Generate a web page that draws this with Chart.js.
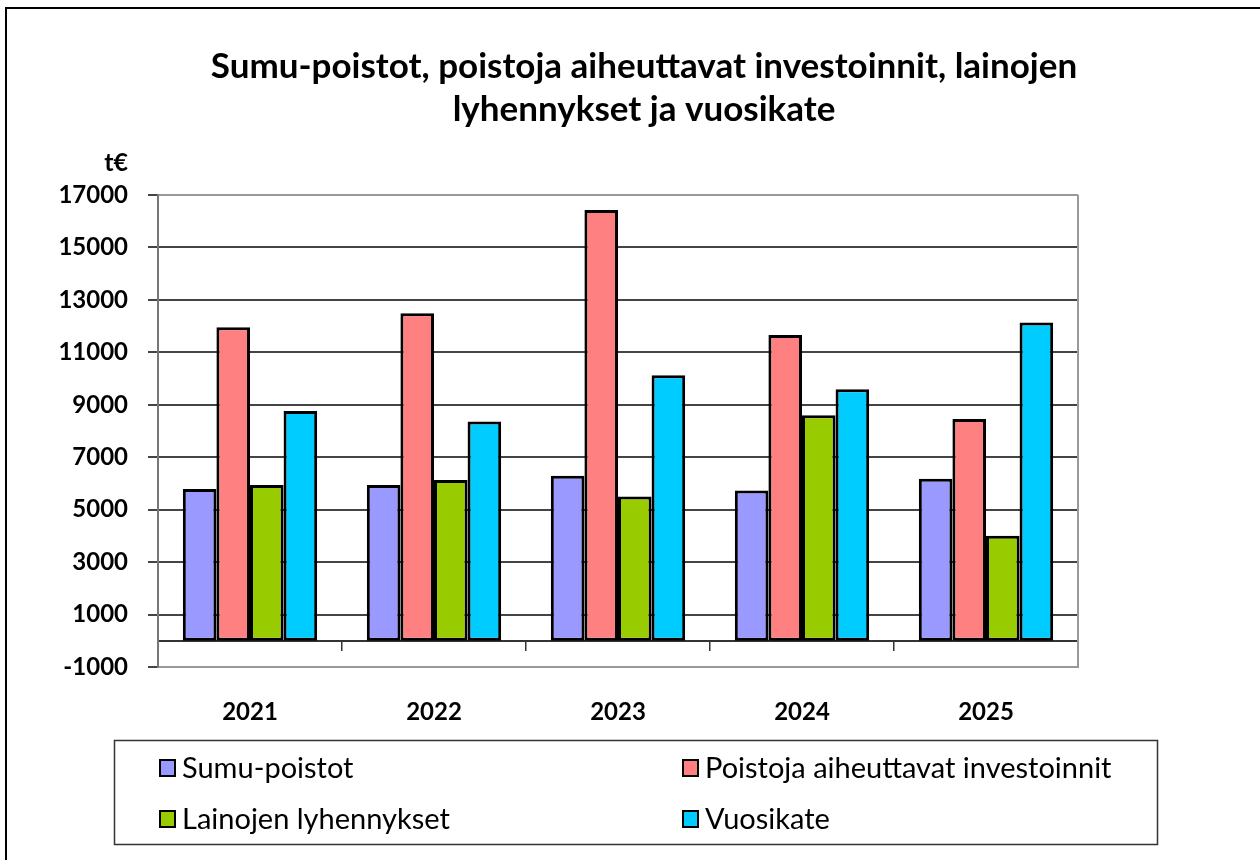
<!DOCTYPE html>
<html>
<head>
<meta charset="utf-8">
<script src="https://cdn.jsdelivr.net/npm/chart.js@4.4.1/dist/chart.umd.min.js"></script>
<style>
  html, body { margin: 0; padding: 0; background: #fff; overflow: hidden; }
  #wrap { position: relative; width: 1260px; height: 860px; }
  #frame { position: absolute; left: 5px; top: 7px; width: 1400px; height: 1000px;
           border-left: 2px solid #000; border-top: 2px solid #000; pointer-events: none; }
  canvas { position: absolute; left: 0; top: 0; }
</style>
</head>
<body>
<div id="wrap">
  <canvas id="chart" width="1260" height="860"></canvas>
  <div id="frame"></div>
</div>
<script>
// data (t€)
const years = ['2021', '2022', '2023', '2024', '2025'];
const sumuPoistot = [5790, 5940, 6290, 5730, 6180];
const poistojaInvestoinnit = [11960, 12490, 16430, 11660, 8460];
const lainojenLyhennykset = [5940, 6130, 5500, 8600, 4010];
const vuosikate = [8760, 8360, 10130, 9590, 12140];

const seriesNames = ['Sumu-poistot', 'Poistoja aiheuttavat investoinnit', 'Lainojen lyhennykset', 'Vuosikate'];
const seriesColors = ['#9999FF', '#FF8080', '#99CC00', '#00CCFF'];

const titleLines = ['Sumu-poistot, poistoja aiheuttavat investoinnit, lainojen', 'lyhennykset ja vuosikate'];
const unitLabel = 't€';

const yMin = -1000, yMax = 17000, yStep = 2000;

const FONT = 'Lato, "Open Sans", sans-serif';

// title, unit label and the boxed legend
const decorations = {
  id: 'decorations',
  beforeDatasetsDraw(chart) {
    const { ctx, chartArea } = chart;
    // grey plot-area frame on the right
    ctx.save();
    ctx.strokeStyle = '#999';
    ctx.lineWidth = 2;
    ctx.beginPath();
    ctx.moveTo(chartArea.right, chartArea.top);
    ctx.lineTo(chartArea.right, chartArea.bottom);
    ctx.stroke();
    ctx.restore();
  },
  afterDraw(chart) {
    const { ctx } = chart;
    ctx.save();
    ctx.fillStyle = '#000';
    ctx.textAlign = 'center';
    ctx.textBaseline = 'middle';
    ctx.font = 'bold 35px ' + FONT;
    titleLines.forEach((line, i) => ctx.fillText(line, 644, 67 + i * 43));

    ctx.font = 'bold 25px ' + FONT;
    ctx.textAlign = 'right';
    ctx.fillText(unitLabel, 128, 163);

    // legend box
    ctx.strokeStyle = '#333';
    ctx.lineWidth = 1.5;
    ctx.strokeRect(114.5, 740.5, 1043, 104);
    ctx.font = '29px ' + FONT;
    ctx.textAlign = 'left';
    chart.data.datasets.forEach((ds, i) => {
      const col = i % 2, row = Math.floor(i / 2);
      const x = col === 0 ? 160 : 683;
      const y = row === 0 ? 768 : 819;
      ctx.fillStyle = ds.backgroundColor;
      ctx.fillRect(x, y - 8, 15, 16);
      ctx.strokeStyle = '#000';
      ctx.lineWidth = 2;
      ctx.strokeRect(x, y - 8, 15, 16);
      ctx.fillStyle = '#000';
      ctx.fillText(ds.label, x + 22, y + 1);
    });
    ctx.restore();
  }
};

const values = [sumuPoistot, poistojaInvestoinnit, lainojenLyhennykset, vuosikate];

new Chart(document.getElementById('chart'), {
  type: 'bar',
  data: {
    labels: years,
    datasets: values.map((v, i) => ({
      label: seriesNames[i],
      data: v,
      backgroundColor: seriesColors[i],
      borderColor: '#000',
      borderWidth: 3,
      borderSkipped: false,
      xAxisID: 'x',
      yAxisID: 'y',
      categoryPercentage: 0.73,
      barPercentage: 1.0
    }))
  },
  options: {
    responsive: false,
    animation: false,
    layout: { padding: { top: 195, left: 0, right: 182, bottom: 0 } },
    plugins: {
      legend: { display: false },
      title: { display: false },
      tooltip: { enabled: false }
    },
    scales: {
      x: {
        position: 'bottom',
        grid: { display: false, drawTicks: false },
        border: { color: '#999', width: 2 },
        ticks: { color: '#000', font: { family: FONT, size: 24, weight: 'bold' }, padding: 31 },
        afterFit: s => { s.height = 193; }
      },
      x0: {
        axis: 'x',
        type: 'category',
        position: { y: 0 },
        offset: true,
        grid: { offset: true, drawOnChartArea: false, tickLength: 9, color: '#333', lineWidth: 1.5 },
        border: { color: '#333', width: 2 },
        ticks: { display: false }
      },
      y: {
        position: 'left',
        min: yMin,
        max: yMax,
        ticks: {
          stepSize: yStep,
          color: '#000',
          padding: 20,
          font: { family: FONT, size: 24, weight: 'bold' },
          callback: v => String(v)
        },
        grid: {
          color: c => (c.tick && (c.tick.value === yMax || c.tick.value === yMin)) ? '#999' : '#444',
          tickColor: '#444',
          lineWidth: 2,
          tickLength: 10
        },
        border: { color: '#777', width: 2 },
        afterFit: s => { s.width = 158; }
      }
    }
  },
  plugins: [decorations]
});
</script>
</body>
</html>
